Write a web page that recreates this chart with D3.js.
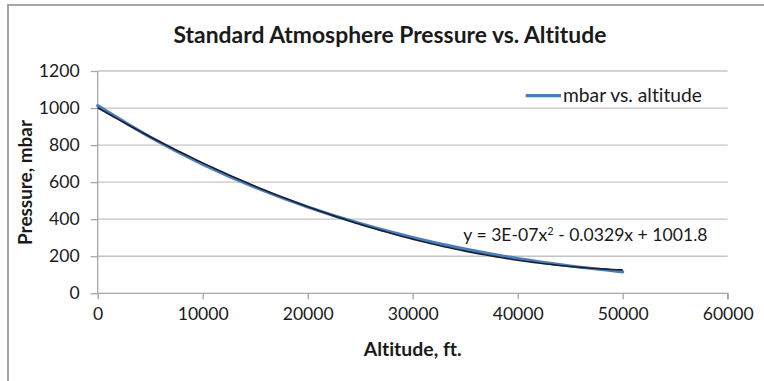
<!DOCTYPE html>
<html>
<head>
<meta charset="utf-8">
<script src="https://cdn.jsdelivr.net/npm/d3@7"></script>
<style>
  html, body { margin: 0; padding: 0; background: #fff; }
  svg { display: block; }
  text { font-family: Lato, "Open Sans", sans-serif; fill: #1a1a1a; font-variant-ligatures: none; }
</style>
</head>
<body>
<svg id="chart" width="764" height="381"></svg>
<script>
// Standard atmosphere: pressure (mbar) at altitude (ft)
const altitudes = [0, 5000, 10000, 15000, 20000, 25000, 30000, 35000, 40000, 45000, 50000];
const pressures = [1013.25, 843.07, 696.82, 571.82, 465.63, 376.01, 300.90, 238.42, 187.54, 147.48, 115.97];

// polynomial trendline y = c2*x^2 + c1*x + c0 (full precision; label shows them rounded)
const trendC2 = 3.07e-7;
const trendC1 = -0.03286;
const trendC0 = 1001.84;

const xTicks = [0, 10000, 20000, 30000, 40000, 50000, 60000];
const yTicks = [0, 200, 400, 600, 800, 1000, 1200];

const titleText = "Standard Atmosphere Pressure vs. Altitude";
const xTitle = "Altitude, ft.";
const yTitle = "Pressure, mbar";
const seriesName = "mbar vs. altitude";

const svg = d3.select("#chart");

const x = d3.scaleLinear().domain([0, 60000]).range([97.7, 727.7]);
const y = d3.scaleLinear().domain([0, 1200]).range([293.3, 71]);

// resize a text node's font so it spans the given width
function fitWidth(sel, w) {
  const node = sel.node();
  const fs = parseFloat(sel.attr("font-size"));
  const cur = node.getComputedTextLength();
  sel.attr("font-size", (fs * w / cur).toFixed(2));
  return sel;
}

// Excel-style "3E-07" exponent notation
function excelExp(v) {
  const [m, e] = v.toExponential(0).split("e");
  const n = parseInt(e, 10);
  return m.toUpperCase() + "E" + (n < 0 ? "-" : "+") + String(Math.abs(n)).padStart(2, "0");
}

// chart area frame
svg.append("rect")
  .attr("x", 8).attr("y", 5).attr("width", 800).attr("height", 400)
  .attr("fill", "#fff").attr("stroke", "#a6a6a6").attr("stroke-width", 2);

// horizontal gridlines
svg.append("g").selectAll("line").data(yTicks.filter(d => d > 0)).join("line")
  .attr("x1", x(0)).attr("x2", x(60000))
  .attr("y1", d => y(d)).attr("y2", d => y(d))
  .attr("stroke", "#c4c4c4").attr("stroke-width", 1.3);

// y axis
const yAxis = svg.append("g").attr("transform", `translate(${x(0)},0)`)
  .call(d3.axisLeft(y).tickValues(yTicks).tickSize(7).tickPadding(11).tickFormat(d3.format("d")));
// x axis
const xAxis = svg.append("g").attr("transform", `translate(0,${y(0)})`)
  .call(d3.axisBottom(x).tickValues(xTicks).tickSize(6).tickPadding(8).tickFormat(d3.format("d")));

[yAxis, xAxis].forEach(g => {
  g.select(".domain").attr("stroke", "#a6a6a6").attr("stroke-width", 1.3);
  g.selectAll(".tick line").attr("stroke", "#a6a6a6").attr("stroke-width", 1.3);
  g.selectAll(".tick text").attr("font-family", "Lato, sans-serif").attr("font-size", 17.6).attr("fill", "#1a1a1a");
});
yAxis.select(".domain").attr("d", `M0,${y(1200)}V${y(0)}`);
xAxis.select(".domain").attr("d", `M${x(0)},0H${x(60000)}V6`);

// data series
const pts = altitudes.map((a, i) => [a, pressures[i]]);
svg.append("path")
  .datum(pts)
  .attr("fill", "none")
  .attr("stroke", "#4a7ebb")
  .attr("stroke-width", 3.2)
  .attr("stroke-linecap", "round")
  .attr("d", d3.line().x(d => x(d[0])).y(d => y(d[1])).curve(d3.curveMonotoneX));

// trendline over the data range
const trendX = d3.range(0, 50001, 500);
svg.append("path")
  .datum(trendX)
  .attr("fill", "none")
  .attr("stroke", "#1b1f2e")
  .attr("stroke-width", 1.6)
  .attr("d", d3.line().x(d => x(d)).y(d => y(trendC0 + trendC1 * d + trendC2 * d * d)));

// trendline equation
const eq = svg.append("text")
  .attr("x", 463.3).attr("y", 240.5)
  .attr("font-size", 17.6);
eq.append("tspan").text(`y = ${excelExp(trendC2)}x`);
eq.append("tspan").attr("dy", -6).attr("font-size", 11).text("2");
eq.append("tspan").attr("dy", 6)
  .text(` ${trendC1 < 0 ? "-" : "+"} ${Math.abs(trendC1).toFixed(4)}x ${trendC0 < 0 ? "-" : "+"} ${Math.abs(trendC0).toFixed(1)}`);

// legend
svg.append("line")
  .attr("x1", 525.7).attr("x2", 561).attr("y1", 95.7).attr("y2", 95.7)
  .attr("stroke", "#4a7ebb").attr("stroke-width", 3.2);
fitWidth(svg.append("text")
  .attr("x", 563).attr("y", 95.7).attr("dy", "0.35em")
  .attr("font-size", 17.6).text(seriesName), 139);

// titles
fitWidth(svg.append("text")
  .attr("x", 390).attr("y", 35).attr("dy", "0.35em")
  .attr("text-anchor", "middle").attr("font-weight", 700)
  .attr("font-size", 20).text(titleText), 433);

fitWidth(svg.append("text")
  .attr("x", x(30000)).attr("y", 349).attr("dy", "0.35em")
  .attr("text-anchor", "middle").attr("font-weight", 700)
  .attr("font-size", 17).text(xTitle), 98);

fitWidth(svg.append("text")
  .attr("transform", "translate(25,182.5) rotate(-90)")
  .attr("dy", "0.35em")
  .attr("text-anchor", "middle").attr("font-weight", 700)
  .attr("font-size", 17).text(yTitle), 125);
</script>
</body>
</html>
